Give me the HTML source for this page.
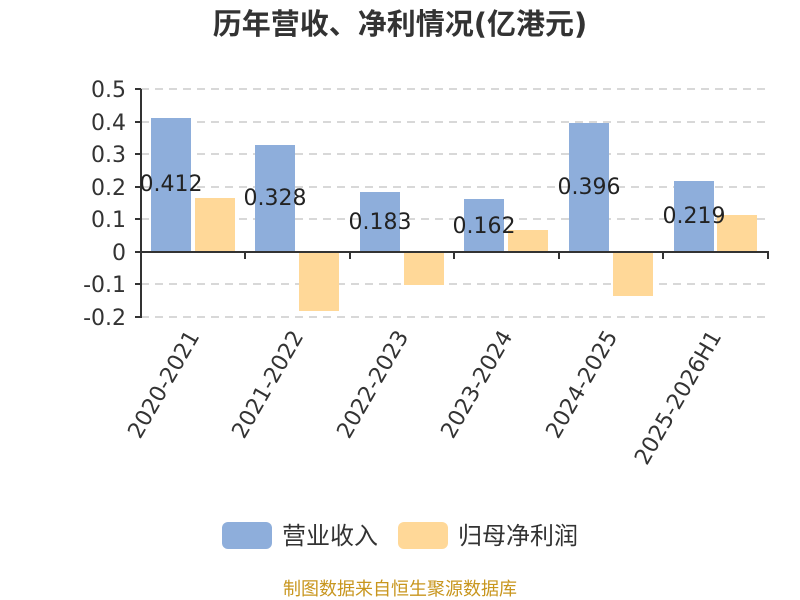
<!DOCTYPE html>
<html><head><meta charset="utf-8"><style>
body{margin:0;background:#fff;}
svg{display:block;font-family:"DejaVu Sans","Noto Sans CJK SC",sans-serif;}
</style></head><body>
<svg width="800" height="600" viewBox="0 0 800 600">
<text x="400" y="34" text-anchor="middle" font-size="29" font-weight="bold" fill="#333">历年营收、净利情况(亿港元)</text>
<g stroke="#ccc" stroke-width="1.5" stroke-dasharray="8,6">
<line x1="141" y1="89" x2="768" y2="89"/><line x1="141" y1="122" x2="768" y2="122"/><line x1="141" y1="154" x2="768" y2="154"/><line x1="141" y1="187" x2="768" y2="187"/><line x1="141" y1="219" x2="768" y2="219"/><line x1="141" y1="284" x2="768" y2="284"/><line x1="141" y1="317" x2="768" y2="317"/>
</g>
<g font-size="22" fill="#333" text-anchor="end">
<text x="126" y="97">0.5</text><text x="126" y="130">0.4</text><text x="126" y="162">0.3</text><text x="126" y="195">0.2</text><text x="126" y="227">0.1</text><text x="126" y="260">0</text><text x="126" y="292">-0.1</text><text x="126" y="325">-0.2</text>
</g>
<g fill="#8eaedb">
<rect x="151" y="118" width="40" height="134"/><rect x="255" y="145" width="40" height="107"/><rect x="360" y="192" width="40" height="60"/><rect x="464" y="199" width="40" height="53"/><rect x="569" y="123" width="40" height="129"/><rect x="674" y="181" width="40" height="71"/>
</g>
<g fill="#ffd898">
<rect x="195" y="198" width="40" height="54"/><rect x="299" y="252" width="40" height="59"/><rect x="404" y="252" width="40" height="33"/><rect x="508" y="230" width="40" height="22"/><rect x="613" y="252" width="40" height="44"/><rect x="717" y="215" width="40" height="37"/>
</g>
<g stroke="#333" stroke-width="2">
<line x1="141" y1="89" x2="141" y2="318"/>
<line x1="140" y1="252" x2="769" y2="252"/>
<line x1="135" y1="89" x2="141" y2="89"/><line x1="135" y1="122" x2="141" y2="122"/><line x1="135" y1="154" x2="141" y2="154"/><line x1="135" y1="187" x2="141" y2="187"/><line x1="135" y1="219" x2="141" y2="219"/><line x1="135" y1="252" x2="141" y2="252"/><line x1="135" y1="284" x2="141" y2="284"/><line x1="135" y1="317" x2="141" y2="317"/>
<line x1="245" y1="252" x2="245" y2="259"/><line x1="350" y1="252" x2="350" y2="259"/><line x1="454" y1="252" x2="454" y2="259"/><line x1="559" y1="252" x2="559" y2="259"/><line x1="663" y1="252" x2="663" y2="259"/><line x1="768" y1="252" x2="768" y2="259"/>
</g>
<g font-size="22" fill="#222" text-anchor="middle">
<text x="171" y="191">0.412</text><text x="275" y="205">0.328</text><text x="380" y="229">0.183</text><text x="484" y="233">0.162</text><text x="589" y="194">0.396</text><text x="694" y="223">0.219</text>
</g>
<g font-size="22" fill="#333" text-anchor="end">
<text transform="translate(200,336) rotate(-60)">2020-2021</text>
<text transform="translate(304,336) rotate(-60)">2021-2022</text>
<text transform="translate(409,336) rotate(-60)">2022-2023</text>
<text transform="translate(513,336) rotate(-60)">2023-2024</text>
<text transform="translate(618,336) rotate(-60)">2024-2025</text>
<text transform="translate(722,336) rotate(-60)">2025-2026H1</text>
</g>
<rect x="222" y="522" width="50" height="27" rx="6" fill="#8eaedb"/>
<text x="282" y="544" font-size="24" fill="#333">营业收入</text>
<rect x="398" y="522" width="50" height="27" rx="6" fill="#ffd898"/>
<text x="458" y="544" font-size="24" fill="#333">归母净利润</text>
<text x="400" y="595" text-anchor="middle" font-size="18" fill="#c8961e">制图数据来自恒生聚源数据库</text>
</svg>
</body></html>
